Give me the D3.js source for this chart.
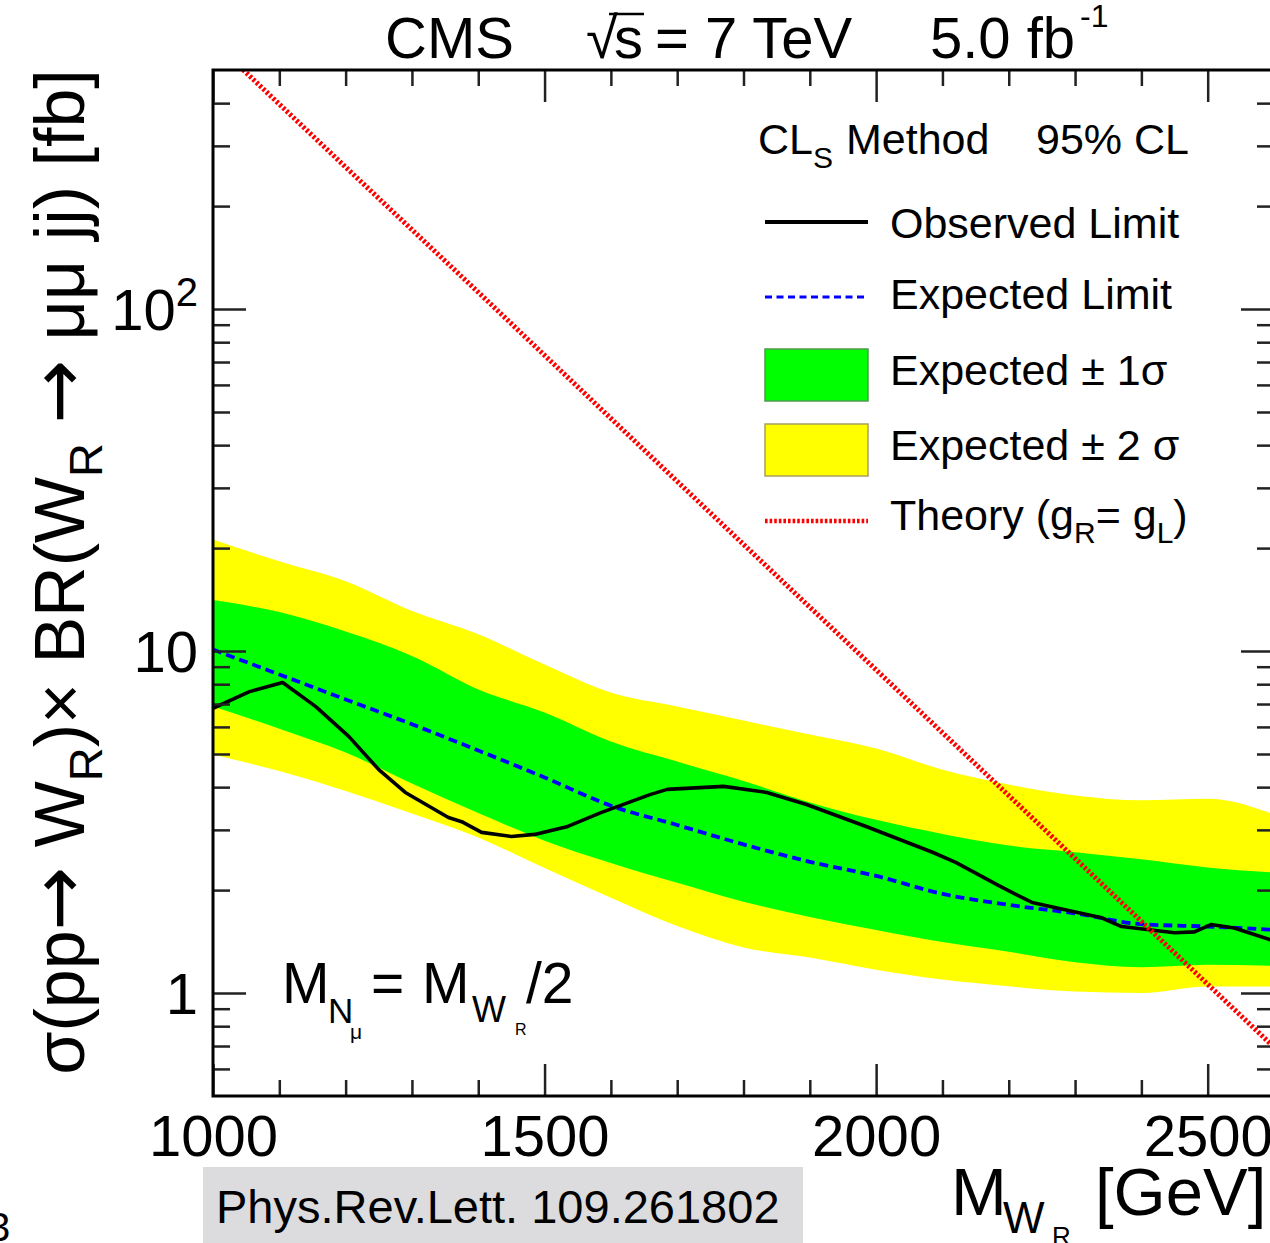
<!DOCTYPE html>
<html><head><meta charset="utf-8">
<script src="https://cdn.jsdelivr.net/npm/d3@7"></script>
<style>
body{margin:0;background:#fff}
svg{display:block}
text{font-family:"Liberation Sans",Arial,Helvetica,sans-serif;fill:#000}
</style>
</head><body>
<svg id="c" width="1270" height="1243"></svg>
<script>
// ---------------- data ----------------
const bandMass     = [1000,1100,1200,1300,1400,1500,1600,1700,1800,1900,2000,2100,2200,2300,2400,2500,2600];
const twoSigmaHigh = [21.2,18.3,16.0,13.1,11.2,9.13,7.56,6.88,6.26,5.70,5.19,4.50,4.07,3.78,3.66,3.70,3.33];
const oneSigmaHigh = [14.1,13.0,11.4,9.67,7.72,6.61,5.44,4.75,4.17,3.61,3.21,2.92,2.70,2.58,2.46,2.33,2.25];
const expected     = [10.1,8.54,7.22,6.11,5.12,4.27,3.53,3.10,2.72,2.42,2.20,1.95,1.81,1.71,1.59,1.565,1.53];
const oneSigmaLow  = [6.88,5.93,5.05,4.10,3.36,2.79,2.40,2.10,1.85,1.67,1.53,1.41,1.32,1.23,1.19,1.21,1.20];
const twoSigmaLow  = [4.98,4.46,3.90,3.35,2.85,2.32,1.90,1.57,1.36,1.27,1.17,1.095,1.047,1.01,1.00,1.045,1.045];

const obsMass  = [1000,1055,1105,1155,1205,1250,1290,1355,1375,1405,1450,1485,1535,1585,1660,1685,1770,1835,1895,1985,2085,2120,2185,2235,2340,2370,2450,2480,2505,2540,2600];
const observed = [6.8,7.61,8.09,6.88,5.62,4.50,3.86,3.26,3.17,2.95,2.87,2.91,3.07,3.37,3.81,3.94,4.02,3.86,3.56,3.07,2.58,2.41,2.06,1.84,1.66,1.565,1.50,1.51,1.586,1.55,1.42];

const theoryMass = [1000,1200,1400,1600,1800,2000,2200,2400,2600];
const theory     = [607,260,112,47.9,20.5,8.81,3.78,1.62,0.695];

const xTickValues = [1000,1500,2000,2500];
const xTickLabels = ["1000","1500","2000","2500"];
const xMinorTicks = [1100,1200,1300,1400,1600,1700,1800,1900,2100,2200,2300,2400,2600];
const yTickValues = [1,10,100];
const yTickBase   = ["1","10","10"];
const yTickExp    = ["","","2"];
const yMinorTicks = [0.6,0.7,0.8,0.9,2,3,4,5,6,7,8,9,20,30,40,50,60,70,80,90,200,300,400];

const legendLabels = ["Observed Limit","Expected Limit","Expected \u00B1 1\u03C3","Expected \u00B1 2 \u03C3"];

// ---------------- layout ----------------
const L = 213, R = 1274, T = 70, B = 1096;
const svg = d3.select("#c");
const x = d3.scaleLinear().domain([1000,2600]).range([L,R]);
const y = d3.scaleLog().domain([0.5,500]).range([B,T]);

svg.append("defs").append("clipPath").attr("id","plotclip")
  .append("rect").attr("x",L).attr("y",T).attr("width",R-L).attr("height",B-T);
const plot = svg.append("g").attr("clip-path","url(#plotclip)");

const bandIdx = d3.range(bandMass.length);
const area = (lo,hi) => d3.area().curve(d3.curveMonotoneX).x(i=>x(bandMass[i])).y0(i=>y(lo[i])).y1(i=>y(hi[i]));
plot.append("path").attr("d",area(twoSigmaLow,twoSigmaHigh)(bandIdx)).attr("fill","#ffff00");
plot.append("path").attr("d",area(oneSigmaLow,oneSigmaHigh)(bandIdx)).attr("fill","#00ff00");

plot.append("path")
  .attr("d",d3.line().curve(d3.curveMonotoneX).x(i=>x(bandMass[i])).y(i=>y(expected[i]))(bandIdx))
  .attr("fill","none").attr("stroke","#0000ff").attr("stroke-width",3.8).attr("stroke-dasharray","9,5");

plot.append("path")
  .attr("d",d3.line().x(i=>x(obsMass[i])).y(i=>y(observed[i]))(d3.range(obsMass.length)))
  .attr("fill","none").attr("stroke","#000").attr("stroke-width",3.6).attr("stroke-linejoin","round");

plot.append("path")
  .attr("d",d3.line().x(i=>x(theoryMass[i])).y(i=>y(theory[i]))(d3.range(theoryMass.length)))
  .attr("fill","none").attr("stroke","#ff0000").attr("stroke-width",5).attr("stroke-dasharray","2.6,2");

// ---------------- axes ----------------
function styleAxis(g){
  g.select(".domain").remove();
  g.selectAll(".tick line").attr("stroke","#222").attr("stroke-width",2.5);
  g.selectAll(".tick text").attr("font-family","Liberation Sans, Arial, sans-serif").attr("fill","#000");
}
svg.append("g").attr("transform",`translate(0,${B})`)
  .call(d3.axisBottom(x).tickValues(xMinorTicks).tickSize(-16).tickFormat("")).call(styleAxis);
svg.append("g").attr("transform",`translate(0,${B})`)
  .call(d3.axisBottom(x).tickValues(xTickValues).tickSize(-32).tickPadding(19)
  .tickFormat((d,i)=>xTickLabels[i])).call(styleAxis)
  .selectAll(".tick text").attr("font-size",58);
svg.append("g").attr("transform",`translate(0,${T})`)
  .call(d3.axisTop(x).tickValues(xMinorTicks).tickSize(-16).tickFormat("")).call(styleAxis);
svg.append("g").attr("transform",`translate(0,${T})`)
  .call(d3.axisTop(x).tickValues(xTickValues).tickSize(-32).tickFormat("")).call(styleAxis);

svg.append("g").attr("transform",`translate(${L},0)`)
  .call(d3.axisLeft(y).tickValues(yMinorTicks).tickSize(-17).tickFormat("")).call(styleAxis);
const gyl = svg.append("g").attr("transform",`translate(${L},0)`)
  .call(d3.axisLeft(y).tickValues(yTickValues).tickSize(-33).tickPadding(15).tickFormat((d,i)=>yTickBase[i])).call(styleAxis);
gyl.selectAll(".tick text").each(function(d,i){
  const t = d3.select(this).attr("font-size",58).attr("dy","0.36em");
  t.text(null);
  t.append("tspan").text(yTickBase[i]);
  if (yTickExp[i]) t.append("tspan").attr("font-size",40).attr("dy","-0.62em").text(yTickExp[i]);
});
svg.append("g").attr("transform",`translate(${R},0)`)
  .call(d3.axisRight(y).tickValues(yMinorTicks).tickSize(-17).tickFormat("")).call(styleAxis);
svg.append("g").attr("transform",`translate(${R},0)`)
  .call(d3.axisRight(y).tickValues(yTickValues).tickSize(-33).tickFormat("")).call(styleAxis);

// frame
svg.append("rect").attr("x",L).attr("y",T).attr("width",R-L).attr("height",B-T)
  .attr("fill","none").attr("stroke","#000").attr("stroke-width",3);

// ---------------- titles ----------------
const hdr = svg.append("g");
hdr.append("text").attr("x",385).attr("y",58).attr("font-size",58).text("CMS");
hdr.append("text").attr("x",586).attr("y",58).attr("font-size",58).attr("font-family","DejaVu Sans").text("\u221A");
hdr.append("text").attr("x",614).attr("y",58).attr("font-size",58).text("s");
hdr.append("line").attr("x1",609).attr("x2",644).attr("y1",14).attr("y2",14).attr("stroke","#000").attr("stroke-width",2.4);
hdr.append("text").attr("x",655).attr("y",58).attr("font-size",58).text("= 7 TeV");
hdr.append("text").attr("x",930).attr("y",58).attr("font-size",58).text("5.0 fb");
hdr.append("text").attr("x",1080).attr("y",27).attr("font-size",32).text("-1");

// y axis title
const yt = svg.append("text").attr("transform","translate(84,572) rotate(-90)")
  .attr("text-anchor","middle").attr("font-size",70);
yt.append("tspan").text("\u03C3(pp");
yt.append("tspan").attr("font-family","DejaVu Sans").attr("font-size",76).text("\u2192");
yt.append("tspan").text(" W");
yt.append("tspan").attr("font-size",47).attr("dy",18).text("R");
yt.append("tspan").attr("dy",-18).text(")\u00D7 BR(W");
yt.append("tspan").attr("font-size",47).attr("dy",18).text("R");
yt.append("tspan").attr("dy",-18).text(" ");
yt.append("tspan").attr("font-family","DejaVu Sans").attr("font-size",76).text("\u2192");
yt.append("tspan").text(" \u03BC\u03BC jj) [fb]");

// x axis title
const xt = svg.append("text").attr("y",1215).attr("font-size",67);
xt.append("tspan").attr("x",951).text("M");
xt.append("tspan").attr("x",1003).attr("dy",18).attr("font-size",44).text("W");
xt.append("tspan").attr("x",1052).attr("dy",12).attr("font-size",26).text("R");
xt.append("tspan").attr("x",1095).attr("dy",-30).text("[GeV]");

// annotation
const an = svg.append("text").attr("y",1003).attr("font-size",57);
an.append("tspan").attr("x",282).text("M");
an.append("tspan").attr("x",328).attr("dy",20).attr("font-size",35).text("N");
an.append("tspan").attr("x",350).attr("dy",16).attr("font-size",21).text("\u03BC");
an.append("tspan").attr("x",371).attr("dy",-36).text("=");
an.append("tspan").attr("x",422).text("M");
an.append("tspan").attr("x",472).attr("dy",19).attr("font-size",36).text("W");
an.append("tspan").attr("x",515).attr("dy",13).attr("font-size",16).text("R");
an.append("tspan").attr("x",526).attr("dy",-32).text("/2");

// ---------------- legend ----------------
const lg = svg.append("g").attr("font-size",43);
const head = lg.append("text").attr("x",758).attr("y",154);
head.append("tspan").text("CL");
head.append("tspan").attr("font-size",30).attr("dy",14).text("S");
head.append("tspan").attr("dy",-14).attr("x",846).text("Method");
lg.append("text").attr("x",1036).attr("y",154).text("95% CL");

const lx1 = 765, lx2 = 868, tx = 890;
lg.append("line").attr("x1",lx1).attr("x2",lx2).attr("y1",222).attr("y2",222).attr("stroke","#000").attr("stroke-width",3.8);
lg.append("line").attr("x1",lx1).attr("x2",lx2).attr("y1",297).attr("y2",297).attr("stroke","#0000ff").attr("stroke-width",3.2).attr("stroke-dasharray","7,4.5");
lg.append("rect").attr("x",lx1).attr("y",349).attr("width",lx2-lx1).attr("height",52).attr("fill","#00ff00").attr("stroke","#4c9a4c").attr("stroke-width",1.5);
lg.append("rect").attr("x",lx1).attr("y",424).attr("width",lx2-lx1).attr("height",52).attr("fill","#ffff00").attr("stroke","#a8a060").attr("stroke-width",1.5);
lg.append("line").attr("x1",lx1).attr("x2",lx2).attr("y1",521).attr("y2",521).attr("stroke","#ff0000").attr("stroke-width",4.5).attr("stroke-dasharray","2.6,2");

const baseY = [238,309,385,460];
legendLabels.forEach((s,i)=>lg.append("text").attr("x",tx).attr("y",baseY[i]).text(s));
const th = lg.append("text").attr("x",tx).attr("y",530);
th.append("tspan").text("Theory (g");
th.append("tspan").attr("font-size",30).attr("dy",13).text("R");
th.append("tspan").attr("dy",-13).text("= g");
th.append("tspan").attr("font-size",30).attr("dy",13).text("L");
th.append("tspan").attr("dy",-13).text(")");

// ---------------- reference box ----------------
svg.append("rect").attr("x",203).attr("y",1167).attr("width",600).attr("height",80).attr("fill","#dcdcde");
svg.append("text").attr("x",216).attr("y",1223).attr("font-size",47).text("Phys.Rev.Lett. 109.261802");
svg.append("text").attr("x",-12).attr("y",1241).attr("font-size",40).text("3");
</script>
</body></html>
